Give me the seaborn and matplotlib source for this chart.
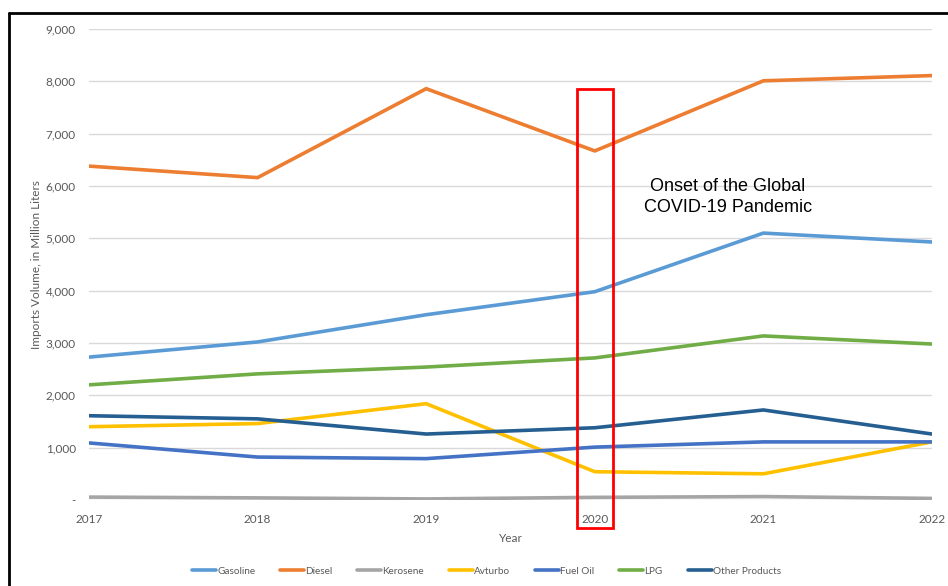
import matplotlib
matplotlib.use("Agg")
import matplotlib.pyplot as plt
import matplotlib.patches as patches
from matplotlib.lines import Line2D
import pandas as pd
import seaborn as sns

years = [2017, 2018, 2019, 2020, 2021, 2022]
gasoline = [2730, 3020, 3540, 3980, 5100, 4930]
diesel = [6380, 6160, 7860, 6670, 8010, 8110]
kerosene = [55, 40, 20, 50, 65, 30]
avturbo = [1400, 1460, 1840, 540, 500, 1110]
fuel_oil = [1090, 820, 790, 1010, 1110, 1110]
lpg = [2200, 2410, 2540, 2715, 3135, 2980]
other_products = [1610, 1550, 1260, 1380, 1720, 1260]

series_names = ["Gasoline", "Diesel", "Kerosene", "Avturbo", "Fuel Oil", "LPG", "Other Products"]
series_values = [gasoline, diesel, kerosene, avturbo, fuel_oil, lpg, other_products]
series_colors = ["#5B9BD5", "#ED7D31", "#A5A5A5", "#FFC000", "#4472C4", "#70AD47", "#255E91"]

y_ticks = [0, 1000, 2000, 3000, 4000, 5000, 6000, 7000, 8000, 9000]
y_tick_labels = ["-", "1,000", "2,000", "3,000", "4,000", "5,000", "6,000", "7,000", "8,000", "9,000"]

highlight_year = 2020
note_text = "Onset of the Global\nCOVID-19 Pandemic"

rows = []
for name, vals in zip(series_names, series_values):
    for yr, v in zip(years, vals):
        rows.append({"Year": yr, "Volume": v, "Product": name})
df = pd.DataFrame(rows)

sns.set_theme(style="white")
plt.rcParams["font.family"] = ["Lato", "DejaVu Sans"]

fig = plt.figure(figsize=(9.48, 5.86), dpi=100)
ax = fig.add_axes([0.0939, 0.1468, 0.8892, 0.8037])

sns.lineplot(data=df, x="Year", y="Volume", hue="Product", hue_order=series_names,
             palette=dict(zip(series_names, series_colors)), linewidth=2.6,
             ax=ax, legend=False, sort=False)

ax.set_xlim(years[0], years[-1])
ax.set_ylim(0, 9000)
ax.set_yticks(y_ticks)
ax.set_yticklabels(y_tick_labels)
ax.set_xticks(years)
ax.set_xticklabels([str(y) for y in years])
ax.tick_params(axis="both", length=0, labelsize=8.5, labelcolor="#595959")
ax.tick_params(axis="y", pad=9.5)
ax.tick_params(axis="x", pad=10)
ax.grid(axis="y", color="#D9D9D9", linewidth=1)
ax.set_axisbelow(True)
for s in ax.spines.values():
    s.set_visible(False)

ax.set_xlabel("Year", fontsize=8.5, color="#595959", labelpad=6)
ax.set_ylabel("Imports Volume, in Million Liters", fontsize=8.5, color="#595959")
ax.yaxis.set_label_coords(-0.056, 0.5)

# highlight box around the 2020 point
rect = patches.Rectangle((highlight_year - 0.107, -535), 0.214, 7860 + 535,
                         fill=False, edgecolor="#FF0000", linewidth=2, clip_on=False, zorder=5)
ax.add_patch(rect)

ax.text(2020.79, 5790, note_text, ha="center", va="center", fontsize=13,
        family=["Liberation Sans", "DejaVu Sans"], color="black", linespacing=1.25)

handles = [Line2D([0], [0], color=c, linewidth=2.6) for c in series_colors]
fig.legend(handles, series_names, loc="center", bbox_to_anchor=(0.513, 0.025), ncol=7,
           frameon=False, fontsize=7.2, handlelength=2.4, handletextpad=0.1,
           columnspacing=2.5, labelcolor="#595959")

# outer frame (left and top edges)
fig.add_artist(Line2D([8.5 / 948, 8.5 / 948], [0, 1 - 13 / 586], color="black",
                      linewidth=2, transform=fig.transFigure))
fig.add_artist(Line2D([8.5 / 948, 1], [1 - 13 / 586, 1 - 13 / 586], color="black",
                      linewidth=2, transform=fig.transFigure))

fig.savefig("out.png", dpi=100)
